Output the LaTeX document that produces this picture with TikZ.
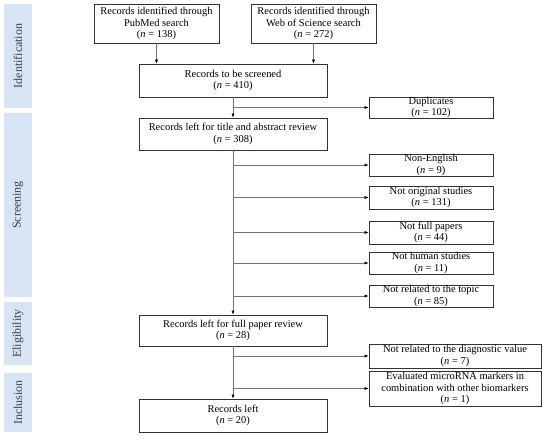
\documentclass[tikz,border=0pt]{standalone}
\usepackage{fontspec}
\setmainfont{Liberation Serif}
\usetikzlibrary{arrows.meta}
\begin{document}
\begin{tikzpicture}[x=1bp,y=-1bp,
  box/.style={draw=black!80,line width=0.6bp,fill=white,align=center,inner sep=0bp,font=\fontsize{10.5}{11.5}\selectfont},
  arr/.style={draw=black!55,line width=0.5bp,-{Latex[length=4bp,width=3bp,black]}},
  phase/.style={fill=phasecol,draw=none},
  phtext/.style={rotate=90,text=black!75,font=\fontsize{12}{14}\selectfont}]
\definecolor{phasecol}{HTML}{D7E4F3}
\useasboundingbox (0,0) rectangle (550,440);
% phases
\node[phase,minimum width=28bp,minimum height=104bp] (ph1) at (18,56) {};
\node[phtext] (t1) at (ph1.center) {Identification};
\node[phase,minimum width=28bp,minimum height=184bp] (ph2) at (18,205) {};
\node[phtext] (t2) at (ph2.center) {Screening};
\node[phase,minimum width=28bp,minimum height=63bp] (ph3) at (18,333.5) {};
\node[phtext] (t3) at (ph3.center) {Eligibility};
\node[phase,minimum width=28bp,minimum height=59bp] (ph4) at (18,402.5) {};
\node[phtext] (t4) at (ph4.center) {Inclusion};
% boxes
\node[box,minimum width=125bp,minimum height=39bp] (pm) at (156.5,23.5) {Records identified through\\PubMed search\\(\textit{n} = 138)};
\node[box,minimum width=125bp,minimum height=39bp] (wos) at (313.5,23.5) {Records identified through\\Web of Science search\\(\textit{n} = 272)};
\node[box,minimum width=188bp,minimum height=33bp] (scr) at (233,80.5) {Records to be screened\\(\textit{n} = 410)};
\node[box,minimum width=124bp,minimum height=21bp] (dup) at (431,107.5) {Duplicates\\(\textit{n} = 102)};
\node[box,minimum width=188bp,minimum height=32bp] (tar) at (233,134) {Records left for title and abstract review\\(\textit{n} = 308)};
\node[box,minimum width=124bp,minimum height=22bp] (ne) at (431,165) {Non-English\\(\textit{n} = 9)};
\node[box,minimum width=124bp,minimum height=23bp] (nos) at (431,197.5) {Not original studies\\(\textit{n} = 131)};
\node[box,minimum width=124bp,minimum height=23bp] (nfp) at (431,232.5) {Not full papers\\(\textit{n} = 44)};
\node[box,minimum width=124bp,minimum height=22bp] (nhs) at (431,263) {Not human studies\\(\textit{n} = 11)};
\node[box,minimum width=124bp,minimum height=22bp] (nrt) at (431,296) {Not related to the topic\\(\textit{n} = 85)};
\node[box,minimum width=188bp,minimum height=31bp] (fpr) at (233,330.5) {Records left for full paper review\\(\textit{n} = 28)};
\node[box,minimum width=172bp,minimum height=24bp] (ndv) at (455,356) {Not related to the diagnostic value\\(\textit{n} = 7)};
\node[box,minimum width=172bp,minimum height=35bp] (emm) at (455,388.5) {Evaluated microRNA markers in\\combination with other biomarkers\\(\textit{n} = 1)};
\node[box,minimum width=188bp,minimum height=33bp] (rl) at (233,415.5) {Records left\\(\textit{n} = 20)};
% connectors
\draw[arr] (pm.south) -- (pm.south |- scr.north);
\draw[arr] (wos.south) -- (wos.south |- scr.north);
\draw[arr] (scr.south) -- (tar.north);
\draw[arr] (scr.south |- dup.west) -- (dup.west);
\draw[arr] (tar.south) -- (fpr.north);
\draw[arr] (tar.south |- ne.west) -- (ne.west);
\draw[arr] (tar.south |- nos.west) -- (nos.west);
\draw[arr] (tar.south |- nfp.west) -- (nfp.west);
\draw[arr] (tar.south |- nhs.west) -- (nhs.west);
\draw[arr] (tar.south |- nrt.west) -- (nrt.west);
\draw[arr] (fpr.south) -- (rl.north);
\draw[arr] (fpr.south |- ndv.west) -- (ndv.west);
\draw[arr] (fpr.south |- emm.west) -- (emm.west);
\end{tikzpicture}
\end{document}
